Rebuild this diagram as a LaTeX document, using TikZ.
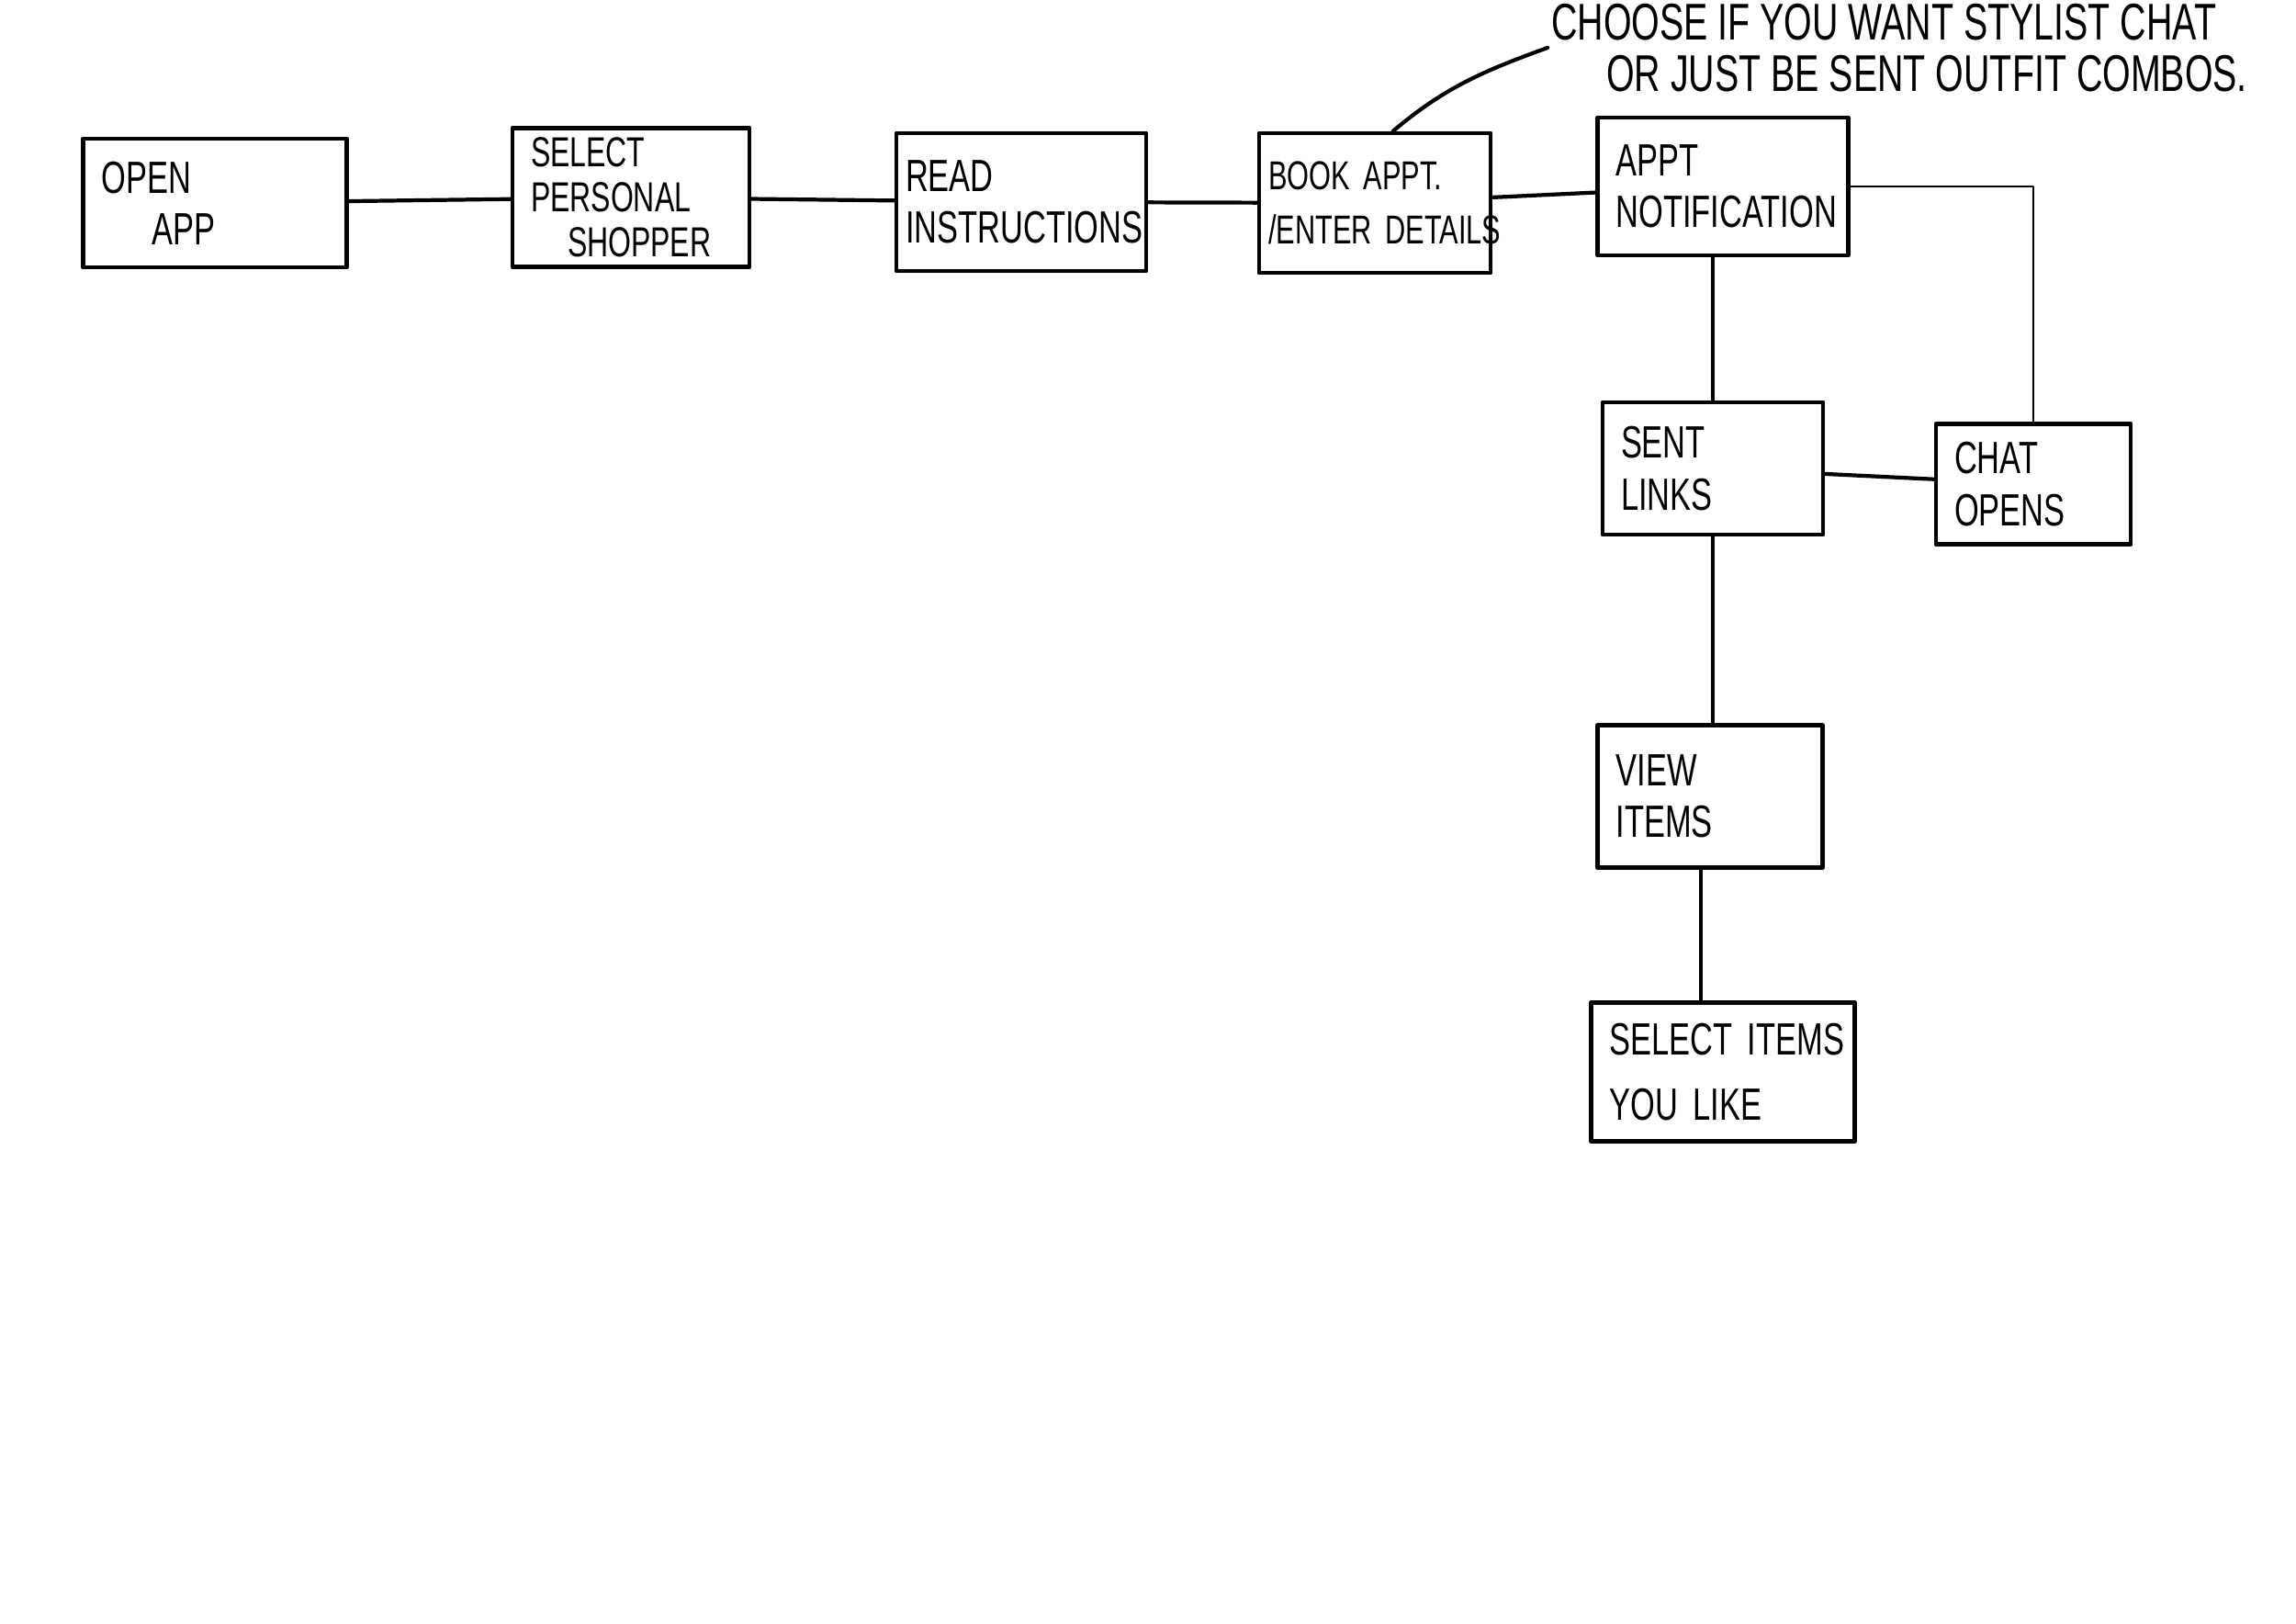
\documentclass[tikz,border=0pt]{standalone}
\usepackage{fontspec}
\setmainfont[FakeStretch=0.7]{Liberation Sans}
\usetikzlibrary{positioning,calc}

\begin{document}
\begin{tikzpicture}[line cap=round,line join=round,
    card/.style={draw,line width=1.4pt,rectangle,align=left,inner xsep=0.2cm,inner ysep=3pt,
      font=\fontsize{14}{16}\selectfont},
    link/.style={line width=1.2pt},
    thinlink/.style={line width=0.6pt}]
  \useasboundingbox (0,0) rectangle (25,-17.68);
  % top row
  \node[card,text width=2.47cm,minimum height=1.40cm] (open) at (2.34,-2.21) {OPEN\\\hspace*{0.55cm}APP};
  \node[card,text width=2.18cm,minimum height=1.50cm,font=\fontsize{13}{14}\selectfont] (shopper) at (6.87,-2.15)
    {SELECT\\PERSONAL\\\hspace*{0.4cm}SHOPPER};
  \node[card,text width=2.52cm,minimum height=1.50cm,inner xsep=0.1cm] (read) at (11.12,-2.20)
    {READ\\\mbox{INSTRUCTIONS}};
  \node[card,text width=2.32cm,minimum height=1.52cm,inner xsep=0.1cm,font=\fontsize{12.5}{17}\selectfont] (book) at (14.97,-2.21)
    {BOOK APPT.\\\mbox{/ENTER DETAILS}};
  \node[card,text width=2.33cm,minimum height=1.50cm] (notif) at (18.76,-2.03) {APPT\\\mbox{NOTIFICATION}};
  % branch
  \node[card,text width=2.00cm,minimum height=1.44cm] (links) at (18.65,-5.10) {SENT\\LINKS};
  \node[card,text width=1.72cm,minimum height=1.31cm] (chat) at (22.14,-5.27) {CHAT\\OPENS};
  \node[card,text width=2.05cm,minimum height=1.55cm] (view) at (18.62,-8.67) {VIEW\\ITEMS};
  \node[card,text width=2.47cm,minimum height=1.51cm] (pick) at (18.76,-11.67) {\mbox{SELECT ITEMS}\\[4pt]YOU LIKE};
  % note
  \node[anchor=west,align=left,inner sep=1pt,font=\fontsize{16}{16}\selectfont] (note) at (16.85,-0.52)
    {CHOOSE IF YOU WANT STYLIST CHAT\\\hspace*{0.6cm}OR JUST BE SENT OUTFIT COMBOS.};

  \draw[link] (open) -- (shopper);
  \draw[link] (shopper) -- (read);
  \draw[link] (read) -- (book);
  \draw[link] (book) -- (notif);
  \draw[link] ([xshift=2mm]book.north) to[out=40,in=200] (note.west);
  \draw[link] (links.north) -- (links.north |- notif.south);
  \draw[thinlink] (notif.east) -| (chat.north);
  \draw[link] (links) -- (chat);
  \draw[link] (links.south) -- (links.south |- view.north);
  \draw[link] ([xshift=-1mm]view.south) -- ([xshift=-1mm]view.south |- pick.north);
\end{tikzpicture}
\end{document}
